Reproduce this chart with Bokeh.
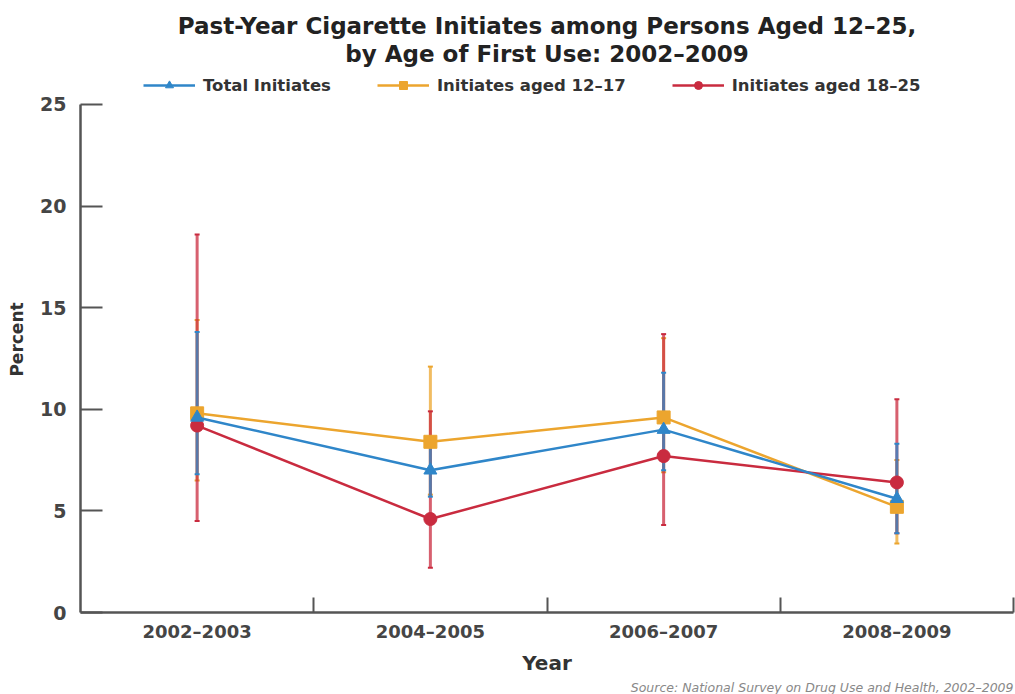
import numpy as np
from bokeh.plotting import figure
from bokeh.models import (Range1d, FixedTicker, Legend, LegendItem, Title,
                          ColumnDataSource, Whisker, TeeHead)
from bokeh.embed import file_html
from bokeh.resources import INLINE

# ---- data ----
periods = ["2002–2003", "2004–2005", "2006–2007", "2008–2009"]
total = [9.6, 7.0, 9.0, 5.6]
total_lo = [6.8, 5.7, 7.0, 3.9]
total_hi = [13.8, 8.6, 11.8, 8.3]
aged_12_17 = [9.8, 8.4, 9.6, 5.2]
aged_12_17_lo = [6.5, 5.8, 6.9, 3.4]
aged_12_17_hi = [14.4, 12.1, 13.5, 7.5]
aged_18_25 = [9.2, 4.6, 7.7, 6.4]
aged_18_25_lo = [4.5, 2.2, 4.3, 3.9]
aged_18_25_hi = [18.6, 9.9, 13.7, 10.5]
y_ticks = [0, 5, 10, 15, 20, 25]

BLUE = "#2f86c9"
YELLOW = "#eca52e"
RED = "#c92b3f"
AXIS = "#555555"
TXT = "#333333"
FONT = "DejaVu Sans"

xpos = np.arange(len(periods)) + 0.5

p = figure(width=1015, height=694, output_backend="svg", toolbar_location=None,
           x_range=Range1d(0, len(periods)), y_range=Range1d(0, 26.87),
           min_border_left=80, min_border_right=2, min_border_top=66, min_border_bottom=0)
p.outline_line_color = None
p.xgrid.visible = False
p.ygrid.visible = False

# x axis: labels at centres, ticks at boundaries (minor ticks)
p.xaxis.ticker = FixedTicker(ticks=list(xpos),
                             minor_ticks=list(np.arange(1, len(periods) + 1)))
p.xaxis.major_label_overrides = {float(x): lab for x, lab in zip(xpos, periods)}
p.xaxis.major_tick_in = 0
p.xaxis.major_tick_out = 0
p.xaxis.minor_tick_in = 15
p.xaxis.minor_tick_out = 0
p.xaxis.minor_tick_line_color = AXIS
p.xaxis.minor_tick_line_width = 2
p.xaxis.axis_line_color = AXIS
p.xaxis.axis_line_width = 2.5
p.xaxis.major_label_text_font = FONT
p.xaxis.major_label_text_font_size = "18px"
p.xaxis.major_label_text_font_style = "bold"
p.xaxis.major_label_text_color = "#454545"
p.xaxis.major_label_standoff = 8
p.xaxis.axis_label = "Year"
p.xaxis.axis_label_text_font = FONT
p.xaxis.axis_label_text_font_size = "20px"
p.xaxis.axis_label_text_font_style = "bold"
p.xaxis.axis_label_text_color = TXT
p.xaxis.axis_label_standoff = 6

# y axis
p.yaxis.ticker = FixedTicker(ticks=y_ticks)
p.yaxis.bounds = (0, 25)
p.yaxis.major_tick_in = 22
p.yaxis.major_tick_out = 0
p.yaxis.minor_tick_in = 0
p.yaxis.minor_tick_out = 0
p.yaxis.major_tick_line_color = AXIS
p.yaxis.major_tick_line_width = 2
p.yaxis.axis_line_color = AXIS
p.yaxis.axis_line_width = 2.5
p.yaxis.major_label_text_font = FONT
p.yaxis.major_label_text_font_size = "19px"
p.yaxis.major_label_text_font_style = "bold"
p.yaxis.major_label_text_color = "#454545"
p.yaxis.major_label_standoff = 14
p.yaxis.axis_label = "Percent"
p.yaxis.axis_label_text_font = FONT
p.yaxis.axis_label_text_font_size = "17px"
p.yaxis.axis_label_text_font_style = "bold"
p.yaxis.axis_label_text_color = TXT
p.yaxis.axis_label_standoff = 10

# error bars
def add_err(lo, hi, color):
    src = ColumnDataSource(dict(x=xpos, lo=lo, hi=hi))
    w = Whisker(base="x", lower="lo", upper="hi", source=src,
                line_color=color, line_width=3, line_alpha=0.75,
                upper_head=TeeHead(size=5, line_color=color, line_width=2),
                lower_head=TeeHead(size=5, line_color=color, line_width=2))
    p.add_layout(w)

add_err(aged_12_17_lo, aged_12_17_hi, YELLOW)
add_err(aged_18_25_lo, aged_18_25_hi, RED)
add_err(total_lo, total_hi, BLUE)

# lines + markers
l_y = p.line(xpos, aged_12_17, line_color=YELLOW, line_width=2.5)
m_y = p.scatter(xpos, aged_12_17, marker="square", size=13, color=YELLOW)
l_r = p.line(xpos, aged_18_25, line_color=RED, line_width=2.5)
m_r = p.scatter(xpos, aged_18_25, marker="circle", size=13, color=RED)
l_b = p.line(xpos, total, line_color=BLUE, line_width=2.5)
m_b = p.scatter(xpos, total, marker="triangle", size=13, color=BLUE)

legend = Legend(items=[
    LegendItem(label="Total Initiates", renderers=[l_b, m_b]),
    LegendItem(label="Initiates aged 12–17", renderers=[l_y, m_y]),
    LegendItem(label="Initiates aged 18–25", renderers=[l_r, m_r]),
], orientation="horizontal", location=(63, 517),
    glyph_width=52, glyph_height=20, spacing=46, label_standoff=8,
    label_text_font=FONT, label_text_font_size="16.5px", label_text_font_style="bold",
    label_text_color=TXT, border_line_color=None, background_fill_alpha=0,
    padding=0, margin=0)
p.add_layout(legend, "center")

p.add_layout(Title(text="by Age of First Use: 2002–2009", align="center",
                   text_font=FONT, text_font_size="23px", text_font_style="bold",
                   text_color="#222222", standoff=0), "above")
p.add_layout(Title(text="Past-Year Cigarette Initiates among Persons Aged 12–25,",
                   align="center", text_font=FONT, text_font_size="23px",
                   text_font_style="bold", text_color="#222222", standoff=0), "above")

p.add_layout(Title(text="Source: National Survey on Drug Use and Health, 2002–2009",
                   align="right", text_font=FONT, text_font_size="12.5px",
                   text_font_style="italic", text_color="#888888", standoff=0), "below")

open("out.html", "w").write(file_html(p, INLINE))
